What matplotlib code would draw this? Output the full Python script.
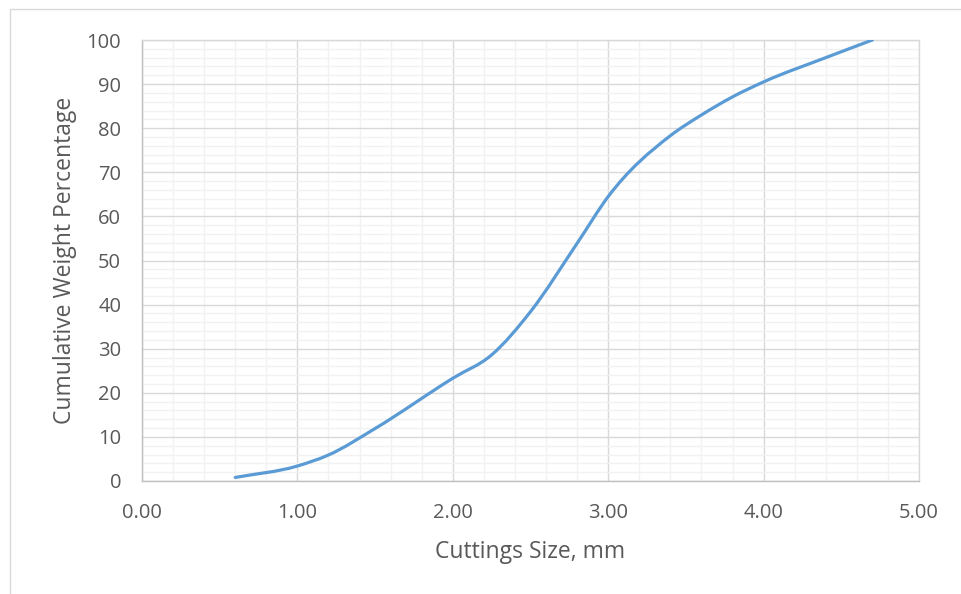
import numpy as np
import matplotlib
matplotlib.use('Agg')
import matplotlib.pyplot as plt
from matplotlib.path import Path
from matplotlib.patches import PathPatch, Rectangle
from matplotlib.ticker import MultipleLocator, FormatStrFormatter

# cuttings size (mm) and cumulative weight percentage
size_mm = [0.6, 1.0, 1.2, 1.5, 2.0, 2.25, 2.5, 2.8, 3.0, 3.4, 3.6, 3.8, 4.0, 4.4, 4.7]
cum_weight = [0.8, 3.4, 5.9, 11.9, 23.3, 28.6, 38.4, 53.9, 64.5, 78.3, 83.0, 87.1, 90.5, 96.0, 100.0]

plt.rcParams['font.family'] = ['Open Sans', 'DejaVu Sans']

fig = plt.figure(figsize=(9.62, 5.94), dpi=100)
ax = fig.add_axes([142/962, 1-481/594, (919-142)/962, (481-40)/594])

# outer chart border, cut off on right/bottom like the reference
fig.patches.append(Rectangle((10/962, -0.1), 1.2, 1 - 9/594 + 0.1, transform=fig.transFigure,
                             fill=False, edgecolor='#d9d9d9', linewidth=1.0))

# smoothed line: cubic bezier segments through the points
x = np.array(size_mm)
y = np.array(cum_weight)
h = np.diff(x)
s = np.diff(y) / h
m = np.empty_like(y)
m[0] = s[0]
m[-1] = s[-1]
m[1:-1] = (h[1:] * s[:-1] + h[:-1] * s[1:]) / (h[:-1] + h[1:])
verts = [(x[0], y[0])]
codes = [Path.MOVETO]
for i in range(len(x) - 1):
    verts += [(x[i] + h[i] / 3, y[i] + m[i] * h[i] / 3),
              (x[i + 1] - h[i] / 3, y[i + 1] - m[i + 1] * h[i] / 3),
              (x[i + 1], y[i + 1])]
    codes += [Path.CURVE4] * 3
ax.add_patch(PathPatch(Path(verts, codes), facecolor='none', edgecolor='#5B9BD5',
                       linewidth=2.3, capstyle='round', zorder=3))

ax.set_xlim(0, 5)
ax.set_ylim(0, 100)
ax.xaxis.set_major_locator(MultipleLocator(1))
ax.xaxis.set_minor_locator(MultipleLocator(0.2))
ax.yaxis.set_major_locator(MultipleLocator(10))
ax.yaxis.set_minor_locator(MultipleLocator(2))
ax.xaxis.set_major_formatter(FormatStrFormatter('%.2f'))

ax.grid(which='minor', color='#f2f2f2', linewidth=1.0)
ax.grid(which='major', color='#d9d9d9', linewidth=1.0)
ax.set_axisbelow(True)

for sp in ['top', 'right']:
    ax.spines[sp].set_color('#d9d9d9')
for sp in ['left', 'bottom']:
    ax.spines[sp].set_color('#bfbfbf')
for sp in ax.spines.values():
    sp.set_linewidth(1.0)

ax.tick_params(which='both', length=0, labelsize=14.5, colors='#595959')
ax.tick_params(axis='x', pad=16)
ax.tick_params(axis='y', pad=15)

ax.set_xlabel('Cuttings Size, mm', fontsize=16.5, color='#595959', labelpad=12)
ax.set_ylabel('Cumulative Weight Percentage', fontsize=16.5, color='#595959', labelpad=7)

fig.savefig('out.png', dpi=100)
